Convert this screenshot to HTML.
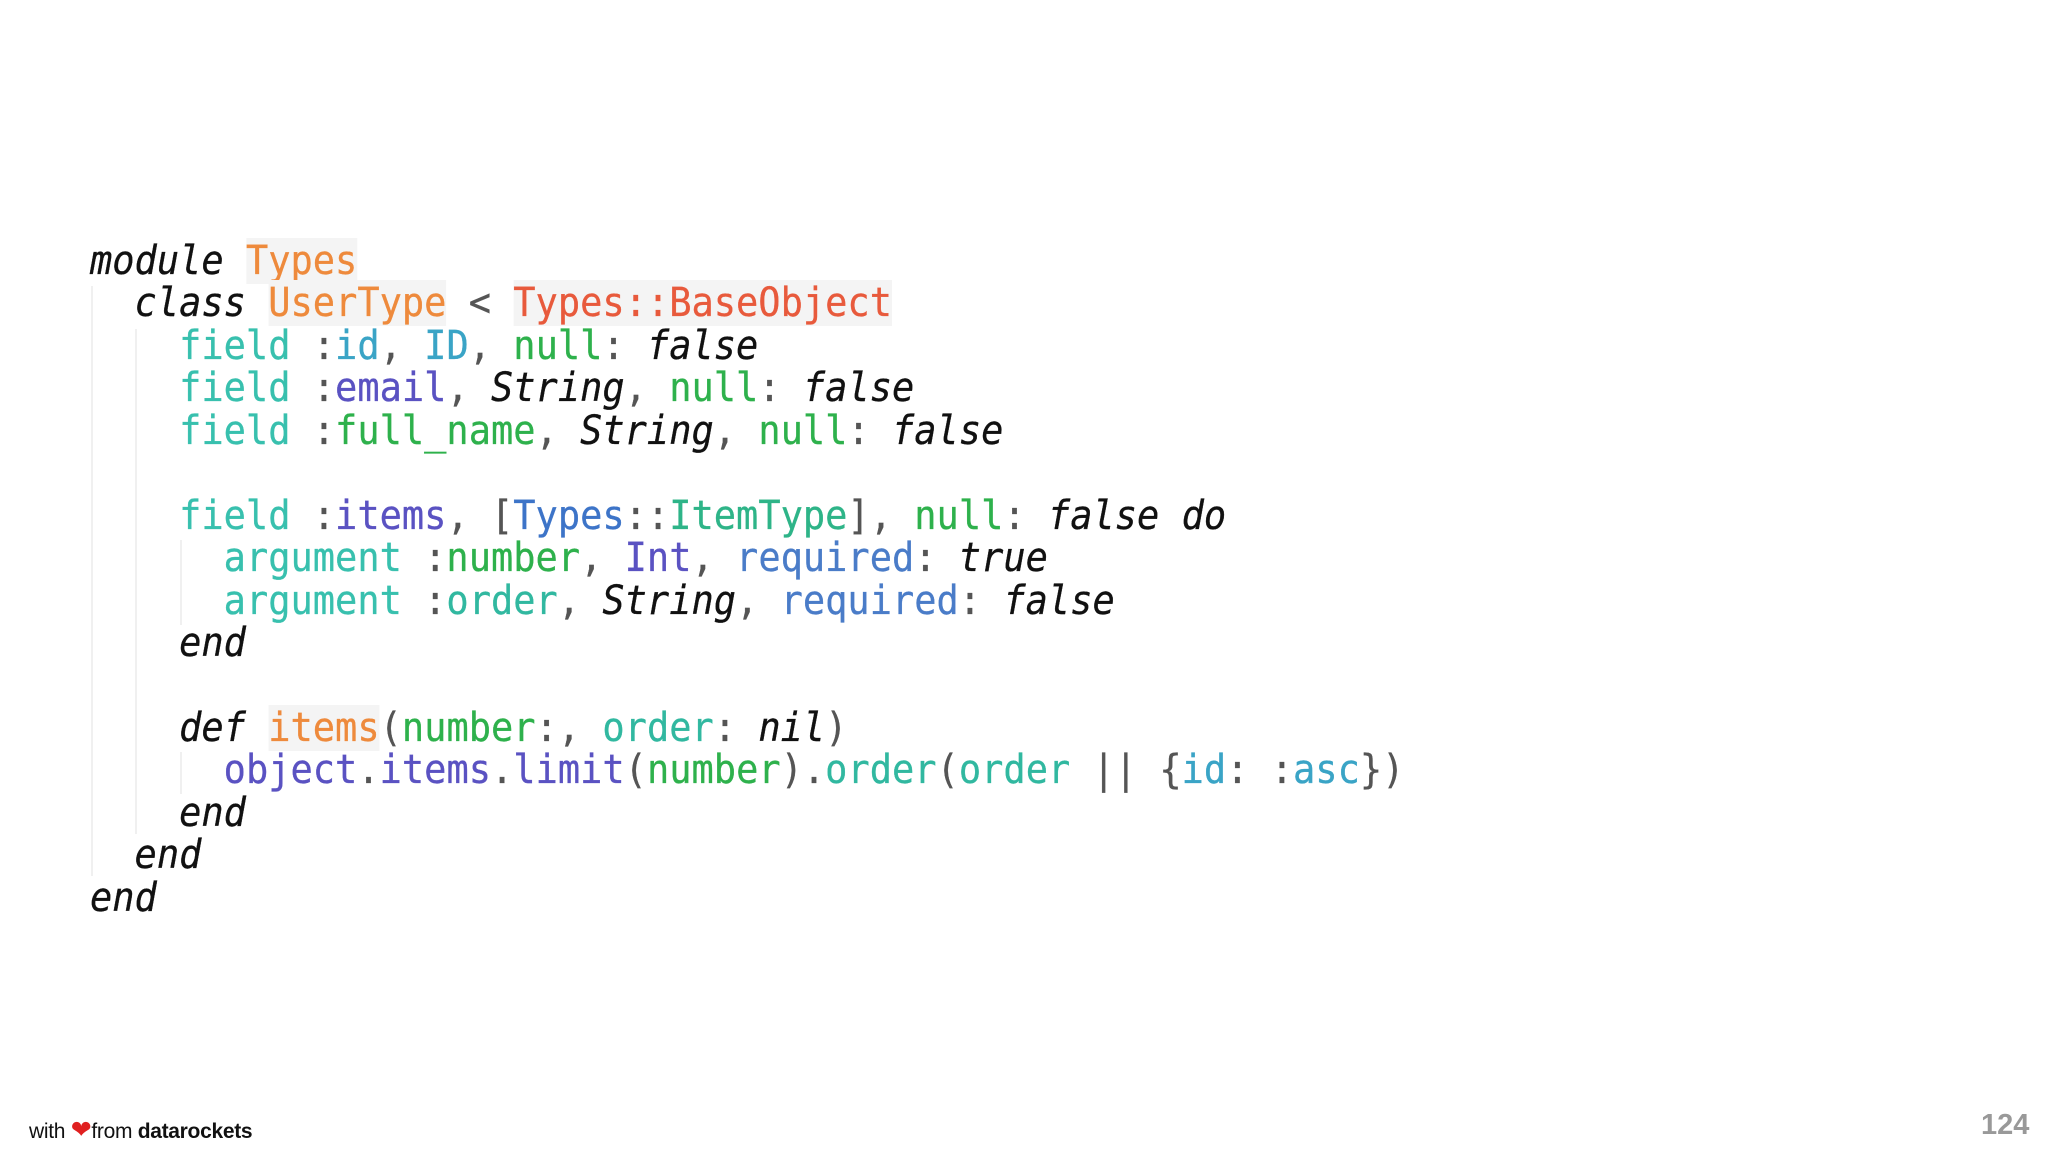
<!DOCTYPE html>
<html><head><meta charset="utf-8"><style>
html,body{margin:0;padding:0;background:#fff;width:2048px;height:1152px;overflow:hidden;position:relative}
pre{position:absolute;left:90px;top:240px;margin:0;font-family:"DejaVu Sans Mono","Liberation Mono",monospace;font-size:40px;line-height:42.45px;color:#555;transform:scaleX(0.925);transform-origin:0 0;-webkit-text-stroke:0.3px currentColor}
.k{color:#111;font-style:italic}
.o{color:#ee8a3c;background:#f4f4f4}
.r{color:#e85a3c;background:#f4f4f4}
.f{color:#38c0ae}
.c{color:#3aa4c6}
.p{color:#5a52c2}
.g{color:#2eb14c}
.b{color:#3d74c8}
.t{color:#2eb488}
.q{color:#4a7cc8}
.e{color:#31b8a0}
.guide{position:absolute;width:2px;background:#f0f0f0}
.foot{position:absolute;left:29px;top:1115px;font-family:"Liberation Sans",sans-serif;font-size:21px;color:#111;letter-spacing:-0.3px}
.num{position:absolute;left:1981px;top:1109px;font-family:"Liberation Sans",sans-serif;font-size:29px;color:#999;font-weight:bold}
</style></head><body>
<div class="guide" style="left:91px;top:286px;height:590px"></div>
<div class="guide" style="left:135px;top:329px;height:505px"></div>
<div class="guide" style="left:180px;top:540px;height:85px"></div>
<div class="guide" style="left:180px;top:752px;height:42px"></div>
<pre><span class="k">module</span> <span class="o">Types</span>
  <span class="k">class</span> <span class="o">UserType</span> &lt; <span class="r">Types::BaseObject</span>
    <span class="f">field</span> :<span class="c">id</span>, <span class="c">ID</span>, <span class="g">null</span>: <span class="k">false</span>
    <span class="f">field</span> :<span class="p">email</span>, <span class="k">String</span>, <span class="g">null</span>: <span class="k">false</span>
    <span class="f">field</span> :<span class="g">full_name</span>, <span class="k">String</span>, <span class="g">null</span>: <span class="k">false</span>

    <span class="f">field</span> :<span class="p">items</span>, [<span class="b">Types</span>::<span class="t">ItemType</span>], <span class="g">null</span>: <span class="k">false do</span>
      <span class="f">argument</span> :<span class="g">number</span>, <span class="p">Int</span>, <span class="q">required</span>: <span class="k">true</span>
      <span class="f">argument</span> :<span class="e">order</span>, <span class="k">String</span>, <span class="q">required</span>: <span class="k">false</span>
    <span class="k">end</span>

    <span class="k">def</span> <span class="o">items</span>(<span class="g">number</span>:, <span class="e">order</span>: <span class="k">nil</span>)
      <span class="p">object</span>.<span class="p">items</span>.<span class="p">limit</span>(<span class="g">number</span>).<span class="e">order</span>(<span class="e">order</span> || {<span class="c">id</span>: :<span class="c">asc</span>})
    <span class="k">end</span>
  <span class="k">end</span>
<span class="k">end</span></pre>
<div class="foot">with <span style="color:#e02020;font-size:25px">❤</span>from <b>datarockets</b></div>
<div class="num">124</div>
</body></html>
